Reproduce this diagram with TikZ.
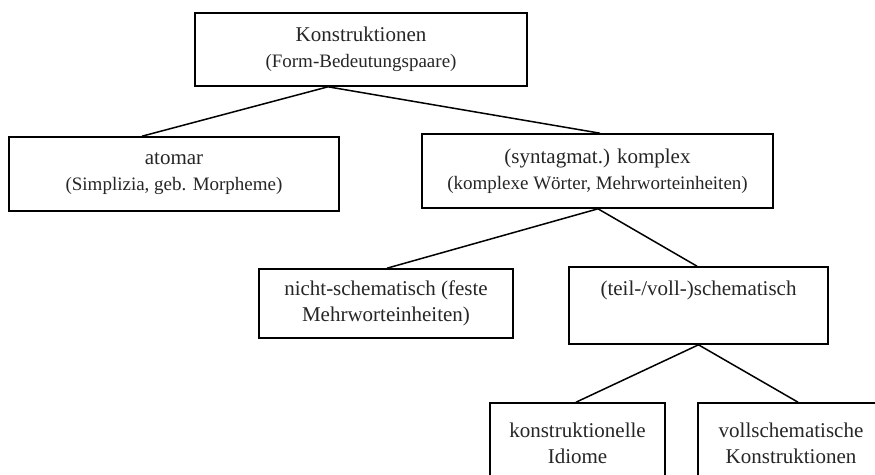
\documentclass[tikz,border=0pt]{standalone}
\usepackage{fontspec}
\setmainfont{Liberation Serif}
\newcommand\subtxt{\fontsize{19}{26}\selectfont}
\begin{document}
\begin{tikzpicture}[x=1pt,y=-1pt,
  box/.style={draw, line width=1.6pt, align=center, inner sep=0pt,
    font=\fontsize{21}{26}\selectfont, text=black!85},
  conn/.style={line width=1.5pt}]
\useasboundingbox (0,0) rectangle (875,474);
\clip (0,0) rectangle (875,474);
\fill[white] (0,0) rectangle (875,474);
\node[box, minimum width=332pt, minimum height=73pt] (K) at (361,49.5)
  {Konstruktionen\\{\subtxt (Form-Bedeutungspaare)}};
\node[box, minimum width=330pt, minimum height=74pt] (A) at (174,174)
  {atomar\\{\subtxt (Simplizia, geb. Morpheme)}};
\node[box, minimum width=351pt, minimum height=74pt] (C) at (597.5,171)
  {(syntagmat.) komplex\\{\subtxt (komplexe Wörter, Mehrworteinheiten)}};
\node[box, minimum width=254pt, minimum height=69pt] (N) at (386,303.5)
  {nicht-schematisch (feste\\Mehrworteinheiten)};
\node[box, minimum width=259pt, minimum height=77pt] (T) at (698.5,305.5)
  {(teil-/voll-)schematisch\\\strut};
\node[box, minimum width=175pt, minimum height=80pt] (I) at (577.5,443)
  {konstruktionelle\\Idiome};
\node[box, minimum width=186pt, minimum height=80pt] (V) at (791,443)
  {vollschematische\\Konstruktionen};
\draw[conn] ([xshift=-32pt]A.north) -- ([xshift=-33pt]K.south) -- ([xshift=2.5pt]C.north);
\draw[conn] ([xshift=1pt]N.north) -- ([xshift=0.5pt]C.south) -- ([xshift=-1.5pt]T.north);
\draw[conn] ([xshift=-1.5pt]I.north) -- (T.south) -- ([xshift=7pt]V.north);
\end{tikzpicture}
\end{document}
